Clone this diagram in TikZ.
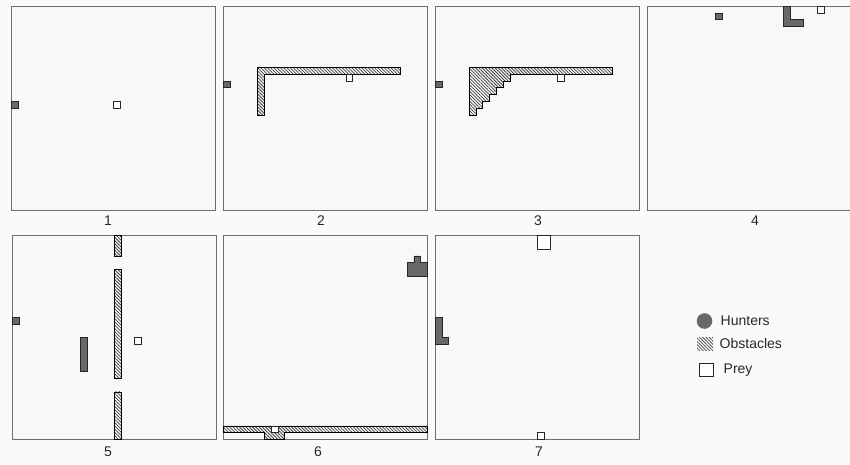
\documentclass[tikz,border=0pt]{standalone}
\usepackage{fontspec}
\setmainfont{Liberation Sans}
\usetikzlibrary{patterns.meta}
\definecolor{bg}{RGB}{250,250,250}
\definecolor{boxc}{RGB}{110,110,110}
\definecolor{hunt}{RGB}{105,105,105}
\definecolor{txt}{RGB}{40,40,40}
\tikzset{
  panel/.style={draw=boxc, line width=1pt, fill={rgb,255:red,248;green,248;blue,248}},
  hunter/.style={fill=hunt, draw=black!85, line width=0.6pt},
  obst/.style={pattern={Lines[angle=-45,distance=2.3pt,line width=0.75pt]}, pattern color=black!75, draw=black, line width=0.6pt},
  prey/.style={fill=white, draw=black!85, line width=0.6pt},
  lbl/.style={font=\fontsize{14}{16}\selectfont, text=txt, inner sep=0pt},
  leg/.style={font=\fontsize{14}{16}\selectfont, text=txt, inner sep=0pt, anchor=west}
}
\begin{document}
\begin{tikzpicture}[x=1pt,y=-1pt]
\useasboundingbox[fill=bg] (0,0) rectangle (850,464);
% Panel 1
\begin{scope}[shift={(11,6)}, x=6.8pt, y=-6.8pt]
  \draw[panel] (0,0) rectangle (30,30);
  \draw[hunter] (0,14) rectangle (1,15);
  \draw[prey] (15,14) rectangle (16,15);
\end{scope}
% Panel 2
\begin{scope}[shift={(223.5,6)}, x=6.8pt, y=-6.8pt]
  \draw[panel] (0,0) rectangle (30,30);
  \draw[hunter] (0,11) rectangle (1,12);
  \draw[obst] (5,9) -- (26,9) -- (26,10) -- (6,10) -- (6,16) -- (5,16) -- cycle;
  \draw[prey] (18,10) rectangle (19,11);
\end{scope}
% Panel 3
\begin{scope}[shift={(435,6)}, x=6.8pt, y=-6.8pt]
  \draw[panel] (0,0) rectangle (30,30);
  \draw[hunter] (0,11) rectangle (1,12);
  \draw[obst] (5,9) -- (26,9) -- (26,10) -- (11,10) -- (11,11) -- (10,11) -- (10,12) -- (9,12) -- (9,13) -- (8,13) -- (8,14) -- (7,14) -- (7,15) -- (6,15) -- (6,16) -- (5,16) -- cycle;
  \draw[prey] (18,10) rectangle (19,11);
\end{scope}
% Panel 4
\begin{scope}[shift={(647,6)}, x=6.8pt, y=-6.8pt]
  \draw[panel] (0,0) rectangle (30,30);
  \draw[hunter] (10,1) rectangle (11,2);
  \draw[hunter] (20,0) -- (21,0) -- (21,2) -- (23,2) -- (23,3) -- (20,3) -- cycle;
  \draw[prey] (25,0) rectangle (26,1);
\end{scope}
% Panel 5
\begin{scope}[shift={(12,235.5)}, x=6.8pt, y=-6.8pt]
  \draw[panel] (0,0) rectangle (30,30);
  \draw[hunter] (0,12) rectangle (1,13);
  \draw[hunter] (10,15) rectangle (11,20);
  \draw[obst] (15,0) rectangle (16,3);
  \draw[obst] (15,5) rectangle (16,21);
  \draw[obst] (15,23) rectangle (16,30);
  \draw[prey] (18,15) rectangle (19,16);
\end{scope}
% Panel 6
\begin{scope}[shift={(223.5,235.5)}, x=6.8pt, y=-6.8pt]
  \draw[panel] (0,0) rectangle (30,30);
  \draw[hunter] (27,4) -- (28,4) -- (28,3) -- (29,3) -- (29,4) -- (30,4) -- (30,6) -- (27,6) -- cycle;
  \draw[obst] (0,28) -- (30,28) -- (30,29) -- (9,29) -- (9,30) -- (6,30) -- (6,29) -- (0,29) -- cycle;
  \draw[prey] (7,28) rectangle (8,29);
\end{scope}
% Panel 7
\begin{scope}[shift={(435,235.5)}, x=6.8pt, y=-6.8pt]
  \draw[panel] (0,0) rectangle (30,30);
  \draw[prey] (15,0) rectangle (17,2);
  \draw[prey] (15,29) rectangle (16,30);
  \draw[hunter] (0,12) -- (1,12) -- (1,15) -- (2,15) -- (2,16) -- (0,16) -- cycle;
\end{scope}
% Panel labels
\node[lbl] (l1) at (108,221) {1};
\node[lbl] (l2) at (321,221) {2};
\node[lbl] (l3) at (538,221) {3};
\node[lbl] (l4) at (755,221) {4};
\node[lbl] (l5) at (108,452) {5};
\node[lbl] (l6) at (318,452) {6};
\node[lbl] (l7) at (539,452) {7};
% Legend
\fill[hunt] (704.5,321) circle (7.8);
\draw[obst, draw=none] (697,337) rectangle (713,350);
\draw[prey, line width=0.7pt] (699.5,363.5) rectangle (713,376.5);
\node[leg] (th) at (720.5,320.5) {Hunters};
\node[leg] (to) at (719.5,343) {Obstacles};
\node[leg] (tp) at (723.5,370) {Prey};
\end{tikzpicture}
\end{document}
